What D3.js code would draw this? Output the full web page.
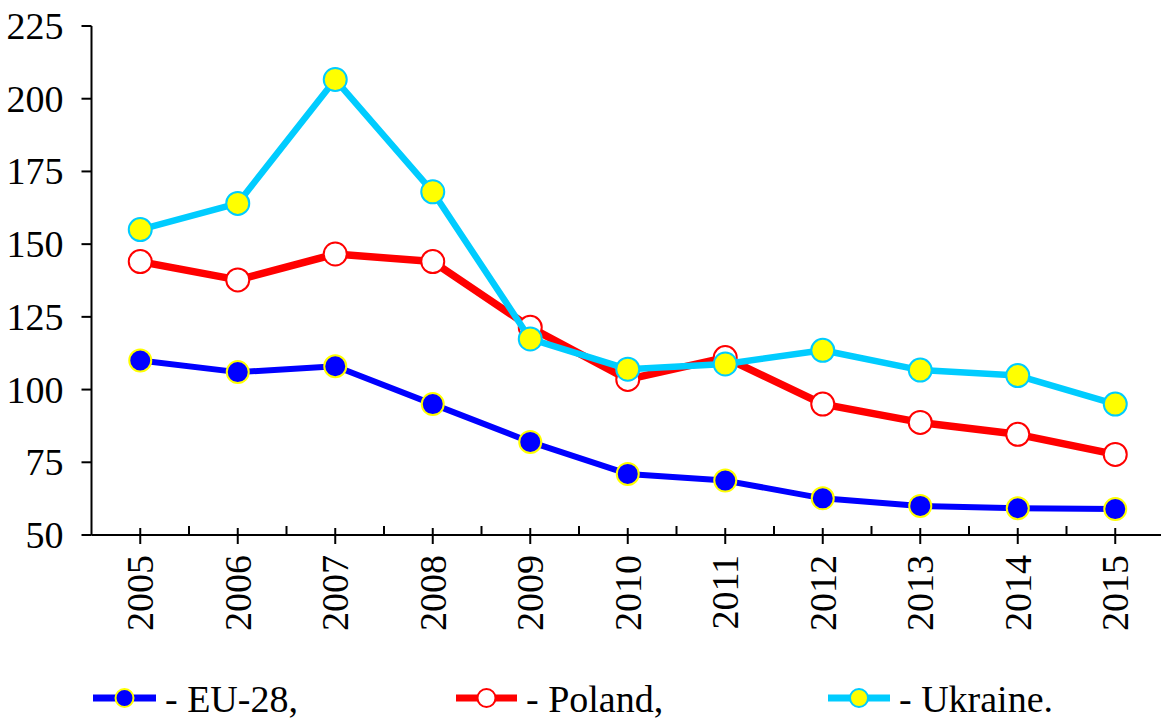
<!DOCTYPE html>
<html>
<head>
<meta charset="utf-8">
<script src="https://cdn.jsdelivr.net/npm/d3@7"></script>
</head>
<body style="margin:0">
<svg id="chart"></svg>
<script>
// Data.
const years = ['2005', '2006', '2007', '2008', '2009', '2010', '2011', '2012', '2013', '2014', '2015'];
const eu28 = [110, 106, 108, 95, 82, 71, 68.7, 62.6, 60, 59.2, 58.9];
const poland = [144, 137.7, 146.6, 144, 121.4, 103.5, 111, 95, 88.7, 84.6, 77.7];
const ukraine = [155, 164, 206.6, 168, 117.4, 107, 108.8, 113.5, 106.7, 104.8, 95];
const yTicks = [50, 75, 100, 125, 150, 175, 200, 225];

const series = [
    { name: '- EU-28,', values: eu28, line: '#0000ff', width: 6, fill: '#0000ff', stroke: '#ffff00', r: 11, lx: 93, lw: 63 },
    { name: '- Poland,', values: poland, line: '#ff0000', width: 7.5, fill: '#ffffff', stroke: '#ff0000', r: 11.5, lx: 456, lw: 61 },
    { name: '- Ukraine.', values: ukraine, line: '#00ccff', width: 6.5, fill: '#ffff00', stroke: '#00ccff', r: 11.5, lx: 828, lw: 62 },
];

const width = 1161;
const height = 719;
const fontSize = 38;

const svg = d3.select('#chart').attr('width', width).attr('height', height);

// Scales.
const x = d3.scaleBand().domain(years).range([91.5, 91.5 + 97.5 * years.length]).padding(0);
const cx = d => x(d) + x.bandwidth() / 2;
const y = d3.scaleLinear().domain([50, 225]).range([535, 26]);
const x0 = x.range()[0];
const y0 = y(50);

// Axis lines and ticks.
svg.append('line')
    .attr('x1', x0).attr('x2', x0)
    .attr('y1', y(225)).attr('y2', y0)
    .attr('stroke', '#000').attr('stroke-width', 2);
svg.selectAll('.ytick')
    .data(yTicks)
    .enter()
    .append('line')
    .attr('x1', x0 - 10).attr('x2', x0)
    .attr('y1', d => y(d)).attr('y2', d => y(d))
    .attr('stroke', '#000').attr('stroke-width', 2);
svg.append('line')
    .attr('x1', x0).attr('x2', x.range()[1])
    .attr('y1', y0).attr('y2', y0)
    .attr('stroke', '#000').attr('stroke-width', 2);
svg.selectAll('.xminor')
    .data(years.slice(1))
    .enter()
    .append('line')
    .attr('x1', d => x(d)).attr('x2', d => x(d))
    .attr('y1', y0 - 9).attr('y2', y0)
    .attr('stroke', '#000').attr('stroke-width', 2);
svg.selectAll('.xmajor')
    .data(years)
    .enter()
    .append('line')
    .attr('x1', d => cx(d)).attr('x2', d => cx(d))
    .attr('y1', y0 - 7).attr('y2', y0 + 9)
    .attr('stroke', '#000').attr('stroke-width', 2);

// Lines and markers.
const lineGen = d3.line()
    .x((d, i) => cx(years[i]))
    .y(d => y(d));

series.forEach(s => {
    svg.append('path')
        .attr('d', lineGen(s.values))
        .attr('fill', 'none')
        .attr('stroke', s.line)
        .attr('stroke-width', s.width)
        .attr('stroke-linejoin', 'round');
    svg.selectAll(null)
        .data(s.values)
        .enter()
        .append('circle')
        .attr('cx', (d, i) => cx(years[i]))
        .attr('cy', d => y(d))
        .attr('r', s.r)
        .attr('fill', s.fill)
        .attr('stroke', s.stroke)
        .attr('stroke-width', 2);
});

// Legend marks.
const legendY = 698;
series.forEach(s => {
    svg.append('line')
        .attr('x1', s.lx).attr('x2', s.lx + s.lw)
        .attr('y1', legendY).attr('y2', legendY)
        .attr('stroke', s.line)
        .attr('stroke-width', 7);
    svg.append('circle')
        .attr('cx', s.lx + s.lw / 2)
        .attr('cy', legendY)
        .attr('r', 9)
        .attr('fill', s.fill)
        .attr('stroke', s.stroke)
        .attr('stroke-width', 2);
});

// All texts, straight on the svg.
const labels = [];
yTicks.forEach(t => labels.push({ text: String(t), x: x0 - 28, y: y(t) + 13, anchor: 'end', rot: false }));
years.forEach(yr => labels.push({ text: yr, x: cx(yr) + 13, y: y0 + 20, anchor: 'end', rot: true }));
series.forEach(s => labels.push({ text: s.name, x: s.lx + s.lw + 9, y: 712, anchor: 'start', rot: false }));

svg.selectAll('.label')
    .data(labels)
    .enter()
    .append('text')
    .attr('x', d => (d.rot ? 0 : d.x))
    .attr('y', d => (d.rot ? 0 : d.y))
    .attr('transform', d => (d.rot ? `translate(${d.x},${d.y}) rotate(-90)` : null))
    .attr('text-anchor', d => d.anchor)
    .attr('font-size', fontSize)
    .style('font-family', () => '"Liberation Serif"')
    .text(d => d.text);
</script>
</body>
</html>
